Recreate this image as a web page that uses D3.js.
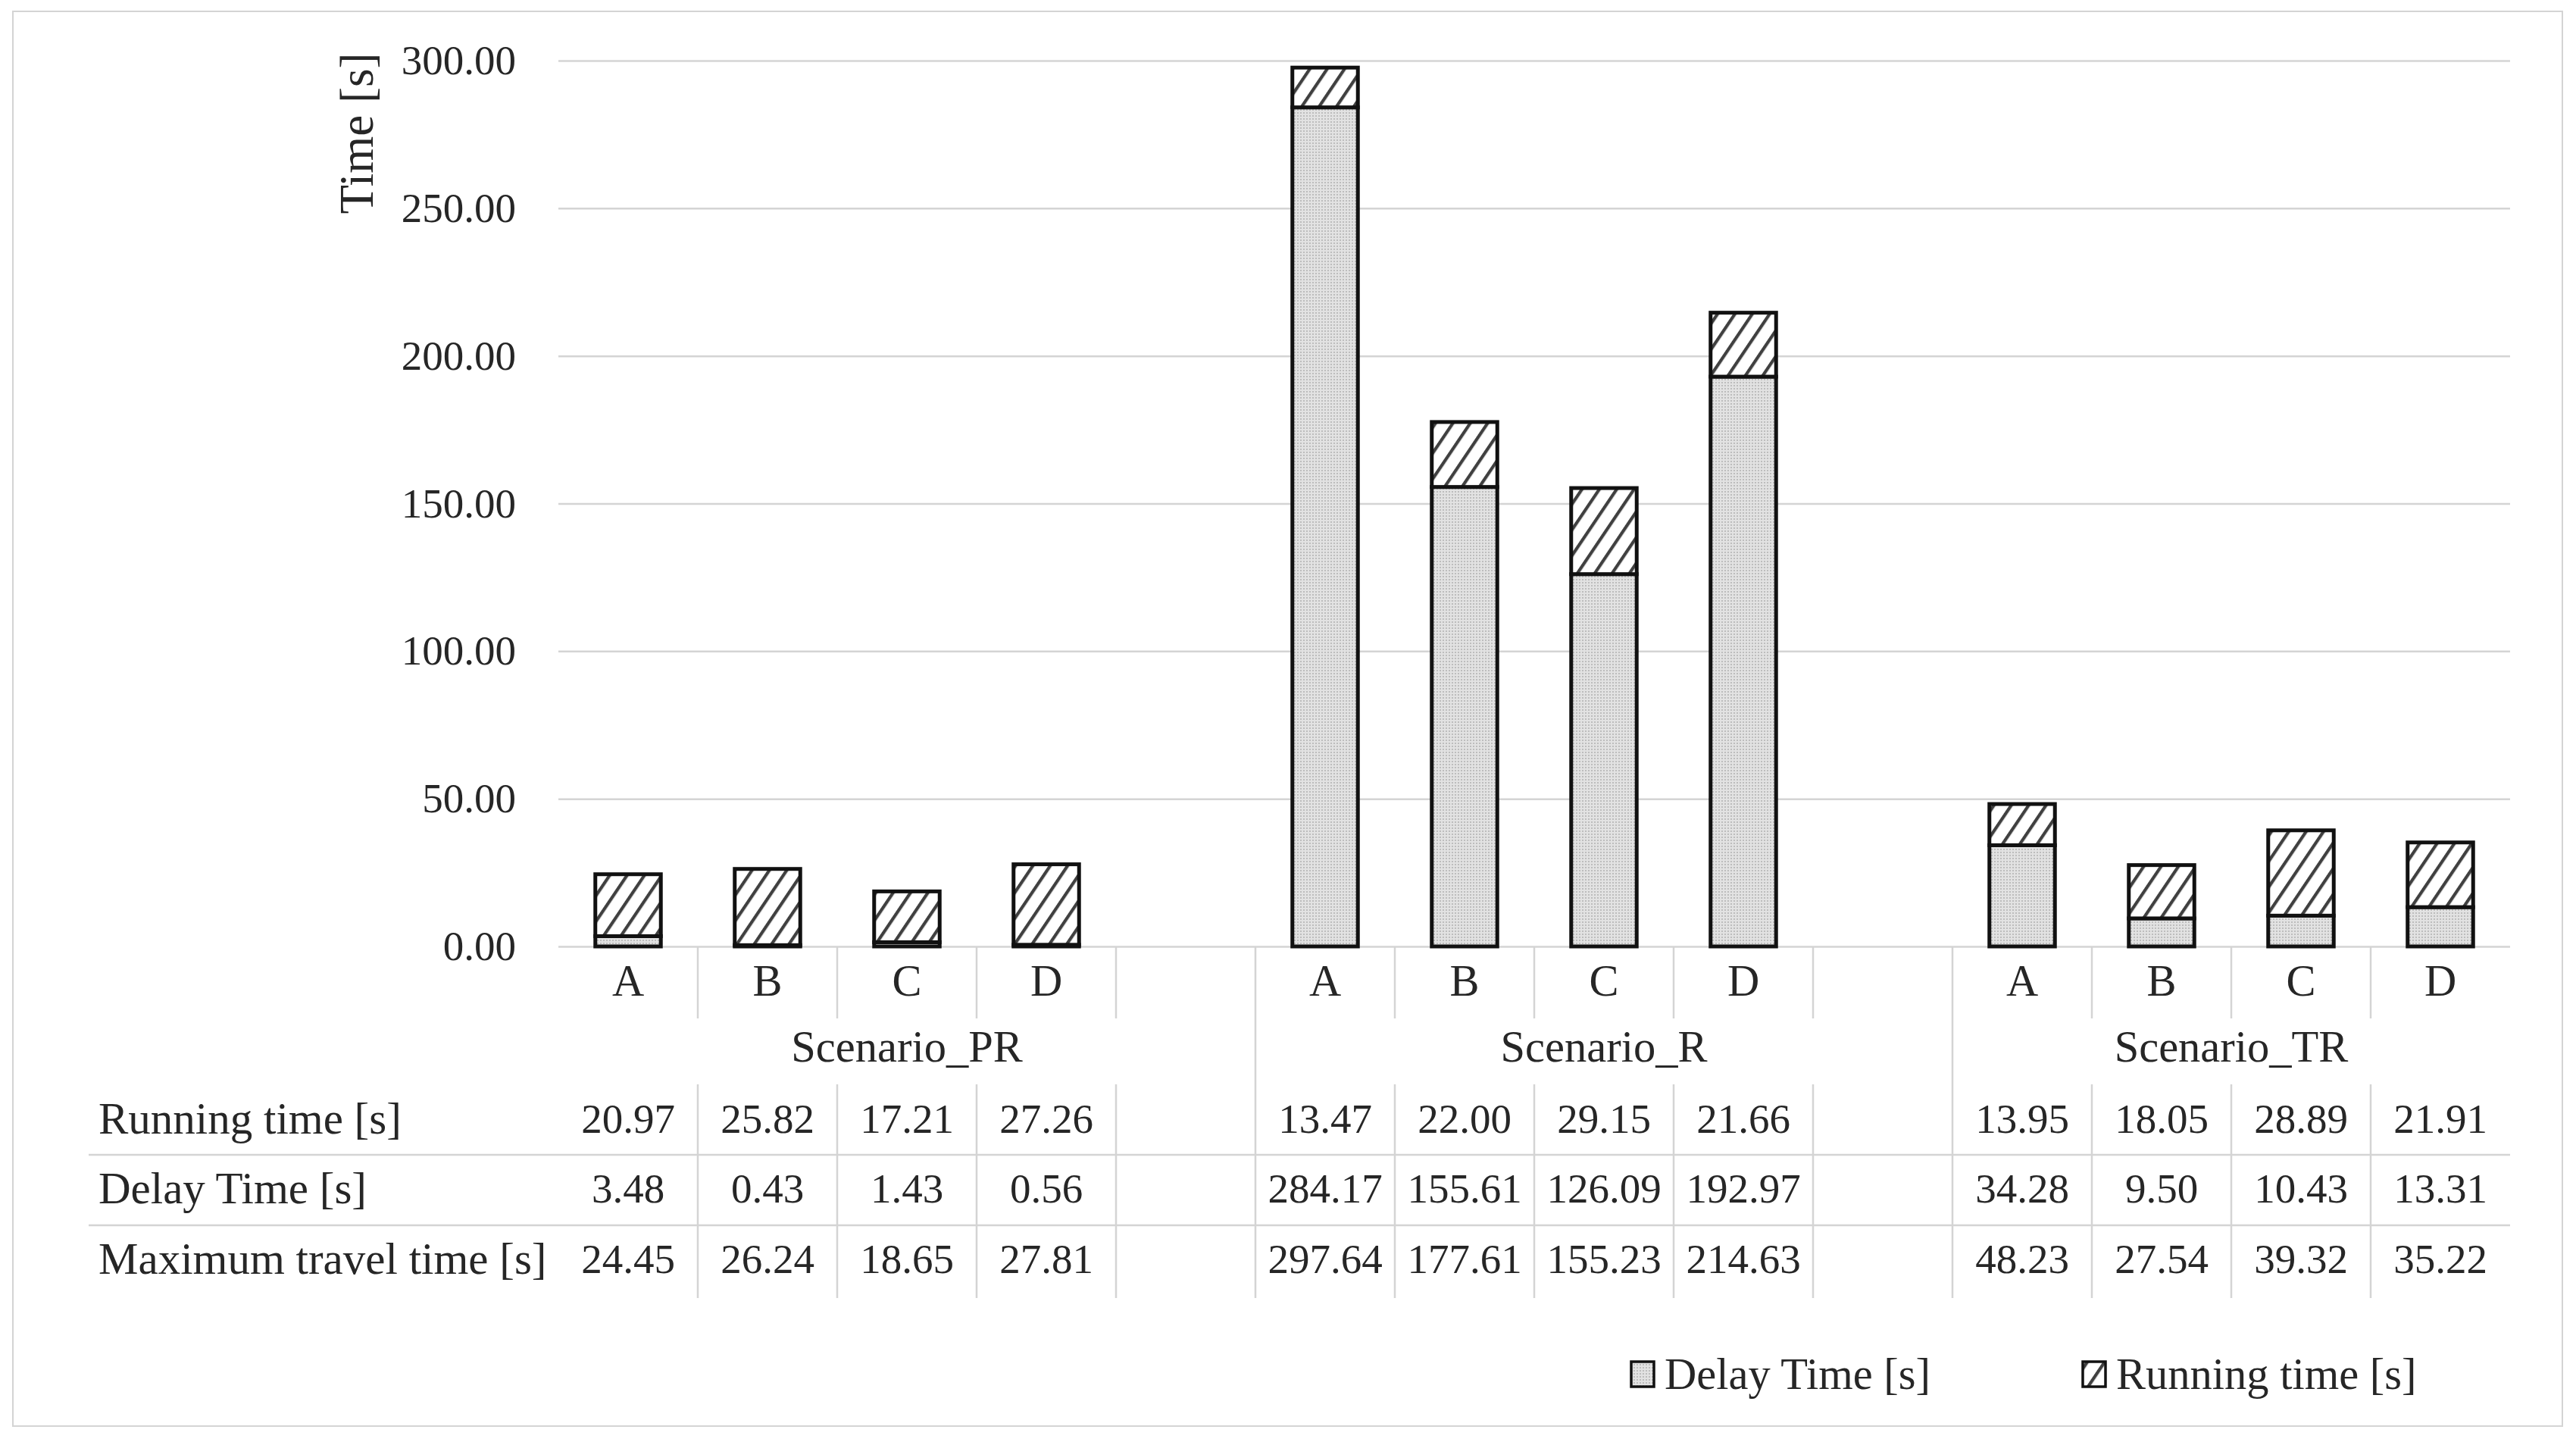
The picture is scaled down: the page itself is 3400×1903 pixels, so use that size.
<!DOCTYPE html>
<html><head><meta charset="utf-8">
<script src="https://cdn.jsdelivr.net/npm/d3@7"></script>
<style>
body{margin:0;background:#fff}
text{font-family:"Liberation Serif","Times New Roman",serif;fill:#262626}
</style>
</head><body>
<svg id="chart" width="3400" height="1903"></svg>
<script>
// ---- data ----
const scenarios = ["Scenario_PR", "Scenario_R", "Scenario_TR"];
const subCategories = ["A", "B", "C", "D"];
const runningPR = [20.97, 25.82, 17.21, 27.26];
const runningR  = [13.47, 22.00, 29.15, 21.66];
const runningTR = [13.95, 18.05, 28.89, 21.91];
const delayPR = [3.48, 0.43, 1.43, 0.56];
const delayR  = [284.17, 155.61, 126.09, 192.97];
const delayTR = [34.28, 9.50, 10.43, 13.31];
const maxPR = [24.45, 26.24, 18.65, 27.81];
const maxR  = [297.64, 177.61, 155.23, 214.63];
const maxTR = [48.23, 27.54, 39.32, 35.22];
const rowLabels = ["Running time [s]", "Delay Time [s]", "Maximum travel time [s]"];
const yTicks = [0, 50, 100, 150, 200, 250, 300];
const legendLabels = ["Delay Time [s]", "Running time [s]"];

const running = [runningPR, runningR, runningTR];
const delay = [delayPR, delayR, delayTR];
const maxT = [maxPR, maxR, maxTR];

// slots (including empty gap slot after the first two scenarios)
const slots = [];
scenarios.forEach((s, i) => {
  subCategories.forEach((c, j) => slots.push({key: s + "|" + c, scen: i, label: c,
    run: running[i][j], del: delay[i][j], max: maxT[i][j]}));
  if (i < scenarios.length - 1) slots.push({key: s + "|gap", scen: i, gap: true});
});

const svg = d3.select("#chart");
const M = {left: 737, right: 3313, top: 80, bottom: 1249};
const x = d3.scaleBand().domain(slots.map(d => d.key)).range([M.left, M.right]).padding(0);
const y = d3.scaleLinear().domain([0, 300]).range([M.bottom, M.top]);
const bw = x.bandwidth() * 0.47;
const FS = 55;      // numbers
const FL = 58.5;    // words
const gridCol = "#d4d4d4";

// patterns
const defs = svg.append("defs");
const hatch = defs.append("pattern").attr("id", "hatch").attr("width", 19).attr("height", 19)
  .attr("patternUnits", "userSpaceOnUse").attr("patternTransform", "rotate(34)");
hatch.append("rect").attr("width", 19).attr("height", 19).attr("fill", "#fff");
hatch.append("line").attr("x1", 0).attr("y1", -2).attr("x2", 0).attr("y2", 21)
  .attr("stroke", "#404040").attr("stroke-width", 8.5);
const dots = defs.append("pattern").attr("id", "dots").attr("width", 4).attr("height", 4)
  .attr("patternUnits", "userSpaceOnUse");
dots.append("rect").attr("width", 4).attr("height", 4).attr("fill", "#e2e2e2");
dots.append("rect").attr("width", 2).attr("height", 2).attr("fill", "#bdbdbd");

// outer frame
svg.append("rect").attr("x", 17).attr("y", 15).attr("width", 3382 - 17).attr("height", 1882 - 15)
  .attr("fill", "none").attr("stroke", gridCol).attr("stroke-width", 2);

// y axis with gridlines
const yAxis = svg.append("g").attr("transform", `translate(${M.left},0)`)
  .call(d3.axisLeft(y).tickValues(yTicks).tickFormat(d3.format(".2f"))
    .tickSize(-(M.right - M.left)).tickPadding(56));
yAxis.select(".domain").remove();
yAxis.selectAll(".tick line").attr("stroke", gridCol).attr("stroke-width", 2.5);
yAxis.selectAll(".tick text").attr("font-size", FS).attr("font-family", "Liberation Serif").attr("fill", "#262626");

// y title
svg.append("text").attr("transform", `translate(471,176) rotate(-90)`)
  .attr("text-anchor", "middle").attr("dominant-baseline", "central")
  .attr("font-size", 63).text("Time [s]");

// bars
const bars = svg.append("g");
const real = slots.filter(d => !d.gap);
bars.selectAll("rect.delay").data(real).join("rect").attr("class", "delay")
  .attr("x", d => x(d.key) + (x.bandwidth() - bw) / 2).attr("width", bw)
  .attr("y", d => y(d.del)).attr("height", d => y(0) - y(d.del))
  .attr("fill", "url(#dots)").attr("stroke", "#111").attr("stroke-width", 5);
bars.selectAll("rect.run").data(real).join("rect").attr("class", "run")
  .attr("x", d => x(d.key) + (x.bandwidth() - bw) / 2).attr("width", bw)
  .attr("y", d => y(d.del + d.run)).attr("height", d => y(d.del) - y(d.del + d.run))
  .attr("fill", "url(#hatch)").attr("stroke", "#111").attr("stroke-width", 5);

// category labels
svg.append("g").selectAll("text").data(real).join("text")
  .attr("x", d => x(d.key) + x.bandwidth() / 2).attr("y", 1294)
  .attr("text-anchor", "middle").attr("dominant-baseline", "central")
  .attr("font-size", FL).text(d => d.label);

// scenario labels
scenarios.forEach((s, i) => {
  const ks = slots.filter(d => d.scen === i);
  const x0 = x(ks[0].key), x1 = x(ks[ks.length - 1].key) + x.bandwidth();
  svg.append("text").attr("x", (x0 + x1) / 2).attr("y", 1381)
    .attr("text-anchor", "middle").attr("dominant-baseline", "central")
    .attr("font-size", FL).text(s);
});

// dividers
const lines = svg.append("g").attr("stroke", gridCol).attr("stroke-width", 2.5);
slots.forEach((d, i) => {
  if (i === 0) return;
  const xx = x(d.key);
  const groupBoundary = slots[i - 1].scen !== d.scen;
  if (groupBoundary) {
    lines.append("line").attr("x1", xx).attr("x2", xx).attr("y1", M.bottom).attr("y2", 1713);
  } else {
    lines.append("line").attr("x1", xx).attr("x2", xx).attr("y1", M.bottom).attr("y2", 1344);
    lines.append("line").attr("x1", xx).attr("x2", xx).attr("y1", 1431).attr("y2", 1713);
  }
});
// table horizontal lines
[1524, 1617].forEach(yy => lines.append("line").attr("x1", 117).attr("x2", M.right).attr("y1", yy).attr("y2", yy));

// table rows
const rowY = [1476, 1568, 1661];
const rowGetters = [d => d.run, d => d.del, d => d.max];
rowLabels.forEach((lab, r) => {
  svg.append("text").attr("x", 130).attr("y", rowY[r]).attr("dominant-baseline", "central")
    .attr("font-size", 59).text(lab);
  svg.append("g").selectAll("text").data(real).join("text")
    .attr("x", d => x(d.key) + x.bandwidth() / 2).attr("y", rowY[r])
    .attr("text-anchor", "middle").attr("dominant-baseline", "central")
    .attr("font-size", FS).text(d => d3.format(".2f")(rowGetters[r](d)));
});

// legend
const legendX = [2153, 2749];
const legendFill = ["url(#dots)", "url(#hatch)"];
legendLabels.forEach((lab, i) => {
  svg.append("rect").attr("x", legendX[i]).attr("y", 1797).attr("width", 30).attr("height", 33)
    .attr("fill", legendFill[i]).attr("stroke", "#111").attr("stroke-width", 3.5);
  svg.append("text").attr("x", legendX[i] + 44).attr("y", 1813).attr("dominant-baseline", "central")
    .attr("font-size", FL).text(lab);
});
</script>
</body></html>
